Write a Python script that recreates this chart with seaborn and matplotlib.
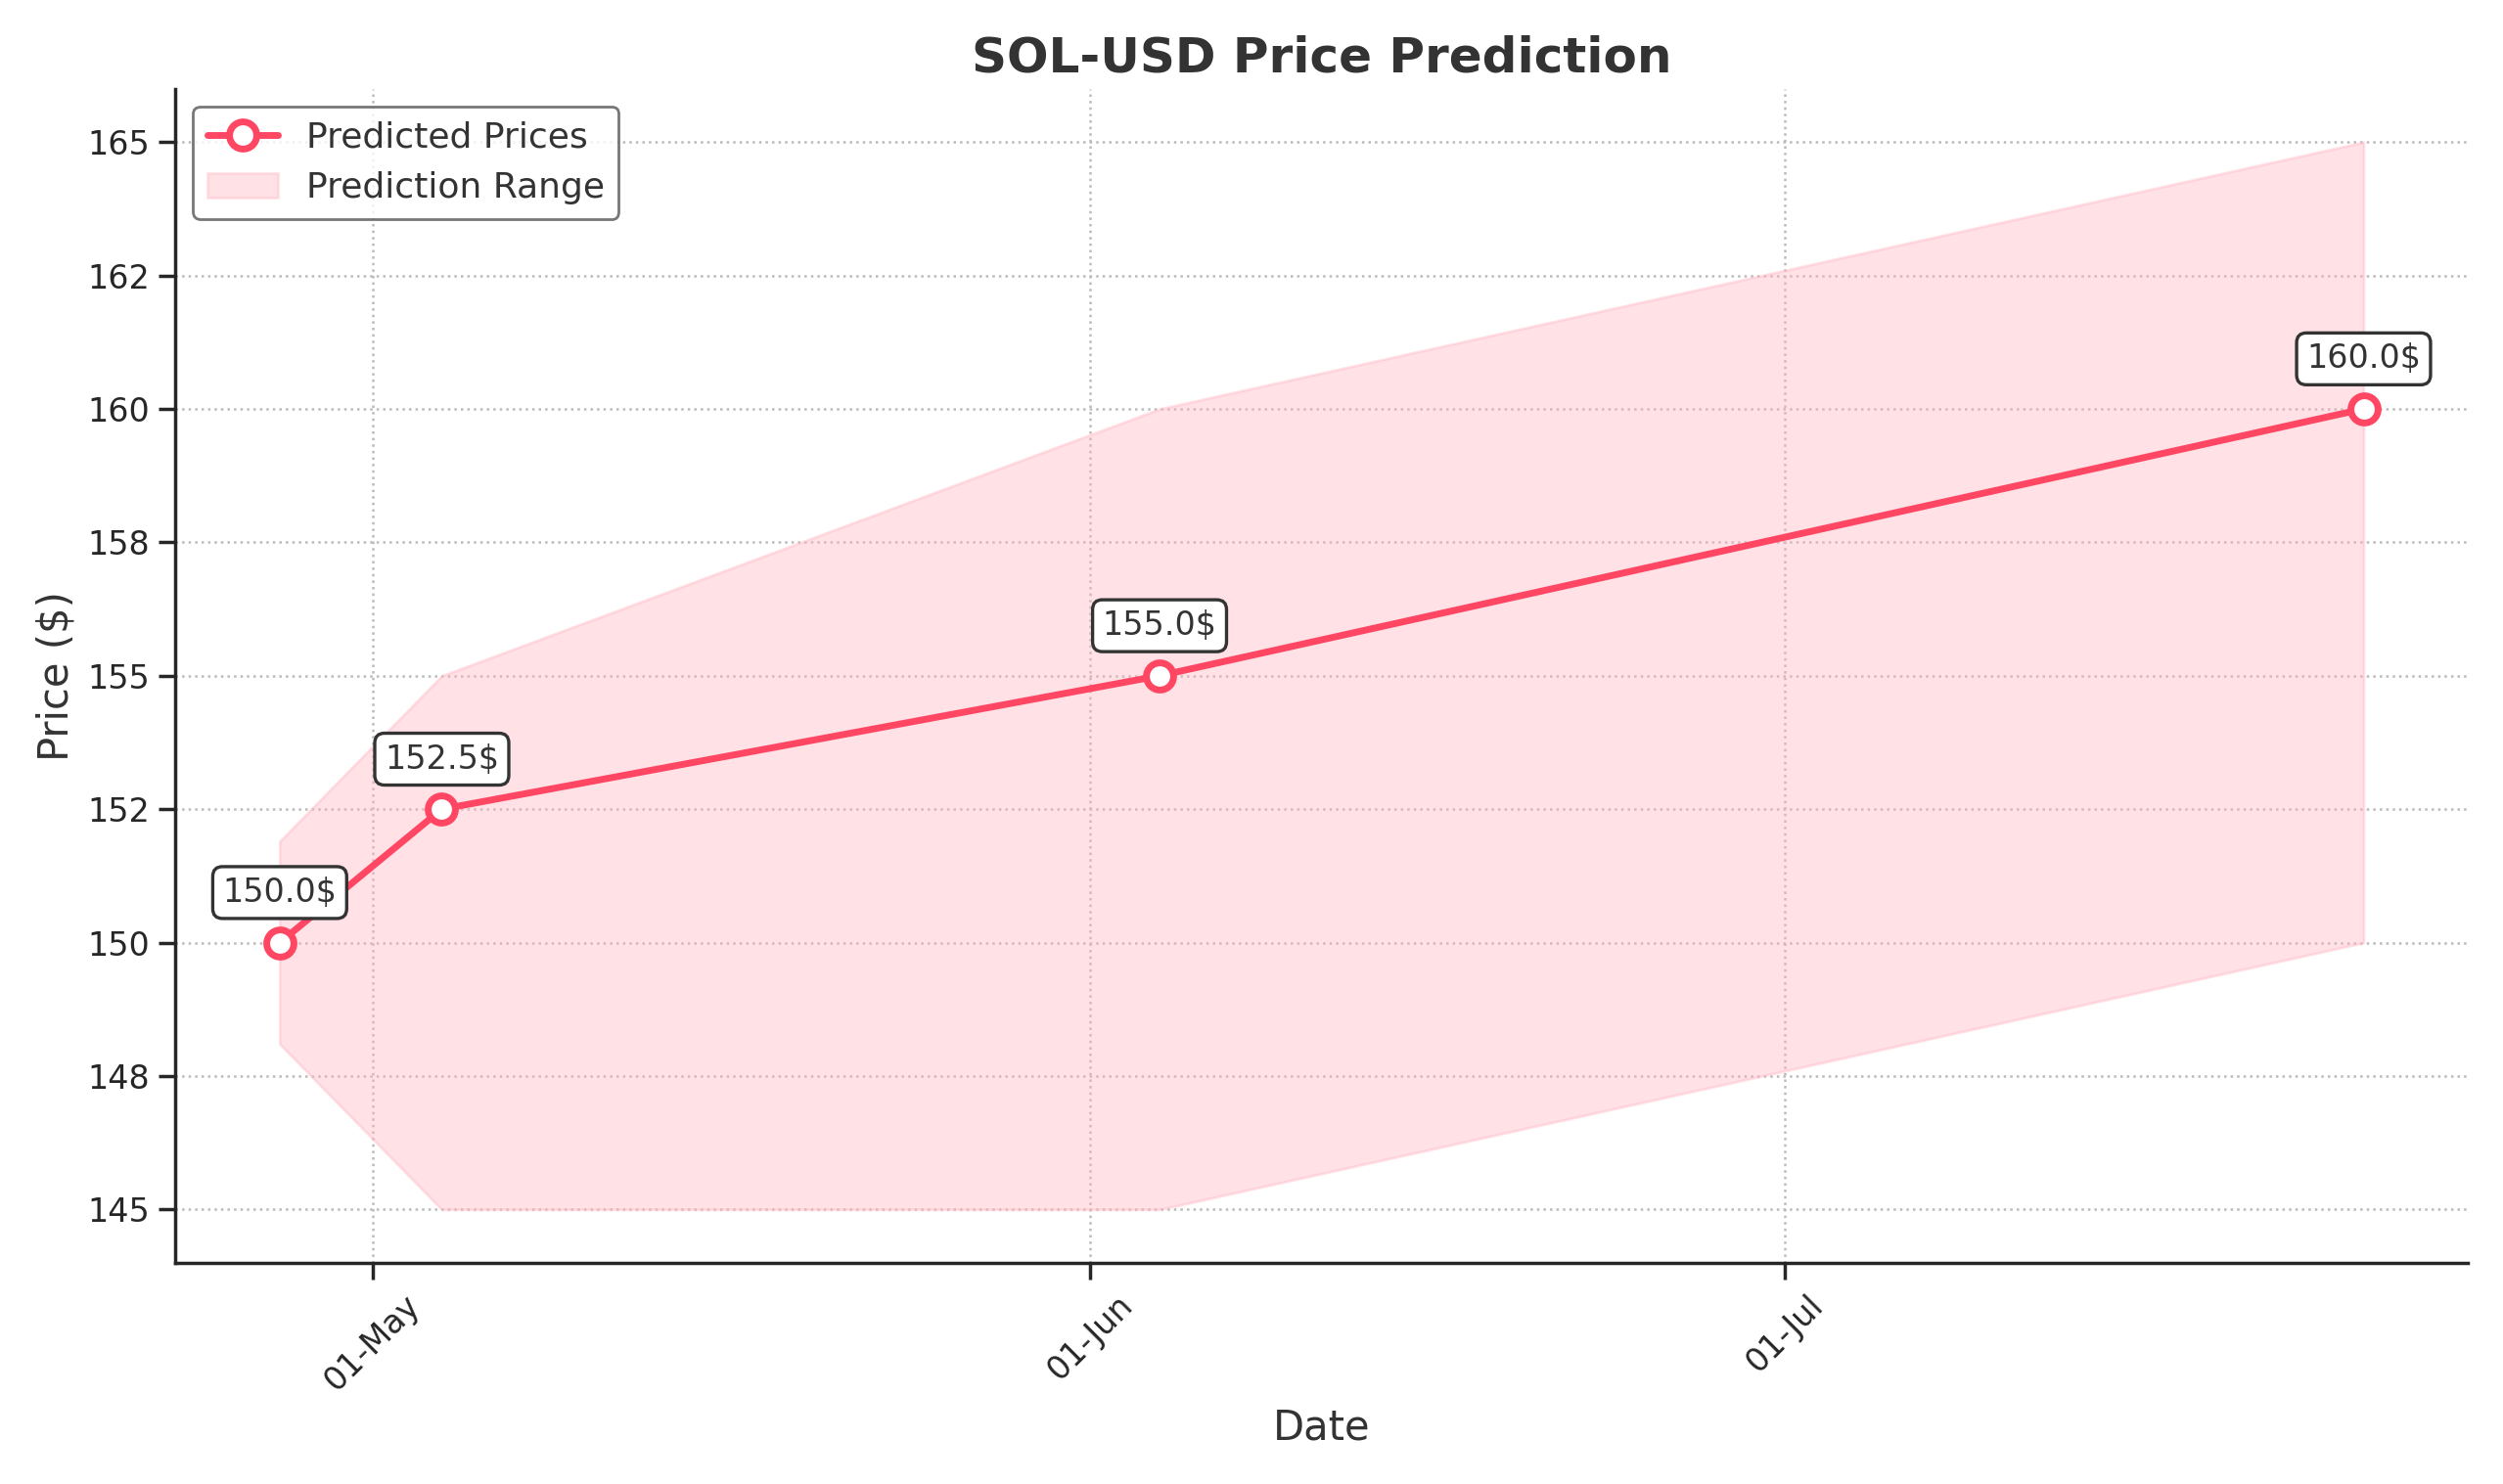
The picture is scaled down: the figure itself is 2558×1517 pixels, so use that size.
import numpy as np
import pandas as pd
import matplotlib
matplotlib.use('Agg')
import matplotlib.pyplot as plt
import matplotlib.dates as mdates
from matplotlib.ticker import MultipleLocator, FuncFormatter
import seaborn as sns

dates = pd.to_datetime(['2024-04-27', '2024-05-04', '2024-06-04', '2024-07-26'])
predicted = [150.0, 152.5, 155.0, 160.0]
lower = [148.1, 145.0, 145.0, 150.0]
upper = [151.9, 155.0, 160.0, 165.0]

sns.set_theme(style='ticks')
plt.rcParams['text.color'] = '#333333'
plt.rcParams['axes.labelcolor'] = '#333333'

color = '#ff4764'
fig, ax = plt.subplots(figsize=(12.79, 7.585), dpi=200)

df = pd.DataFrame({'Date': dates, 'Price': predicted})
ax.fill_between(dates, lower, upper, color='#ffb6c1', alpha=0.4, label='Prediction Range')
sns.lineplot(data=df, x='Date', y='Price', ax=ax, color=color, linewidth=2.5, marker='o',
             markersize=10, markerfacecolor='white', markeredgecolor=color, markeredgewidth=2.5,
             label='Predicted Prices')

for d, p in zip(dates, predicted):
    ax.annotate(f'{p}$', (d, p), textcoords='offset points', xytext=(0, 15), ha='center',
                fontsize=12, bbox=dict(boxstyle='round,pad=0.3', fc='white', ec='#333333', lw=1.2))

ax.set_title('SOL-USD Price Prediction', fontsize=18, fontweight='bold')
ax.set_xlabel('Date', fontsize=15)
ax.set_ylabel('Price ($)', fontsize=15)
ax.xaxis.set_major_locator(mdates.MonthLocator())
ax.xaxis.set_major_formatter(mdates.DateFormatter('%d-%b'))
ax.yaxis.set_major_locator(MultipleLocator(2.5))
ax.yaxis.set_major_formatter(FuncFormatter(lambda v, _: f'{v:.0f}'))
plt.setp(ax.get_xticklabels(), rotation=45, fontsize=12)
plt.setp(ax.get_yticklabels(), fontsize=12)
ax.grid(True, linestyle=':', color='#bbbbbb', linewidth=0.9)
sns.despine(ax=ax)
handles, labels = ax.get_legend_handles_labels()
ax.legend(handles[::-1], labels[::-1], loc='upper left', fontsize=13, frameon=True, edgecolor='#555555')
fig.tight_layout()
fig.savefig('out.png', dpi=200)
